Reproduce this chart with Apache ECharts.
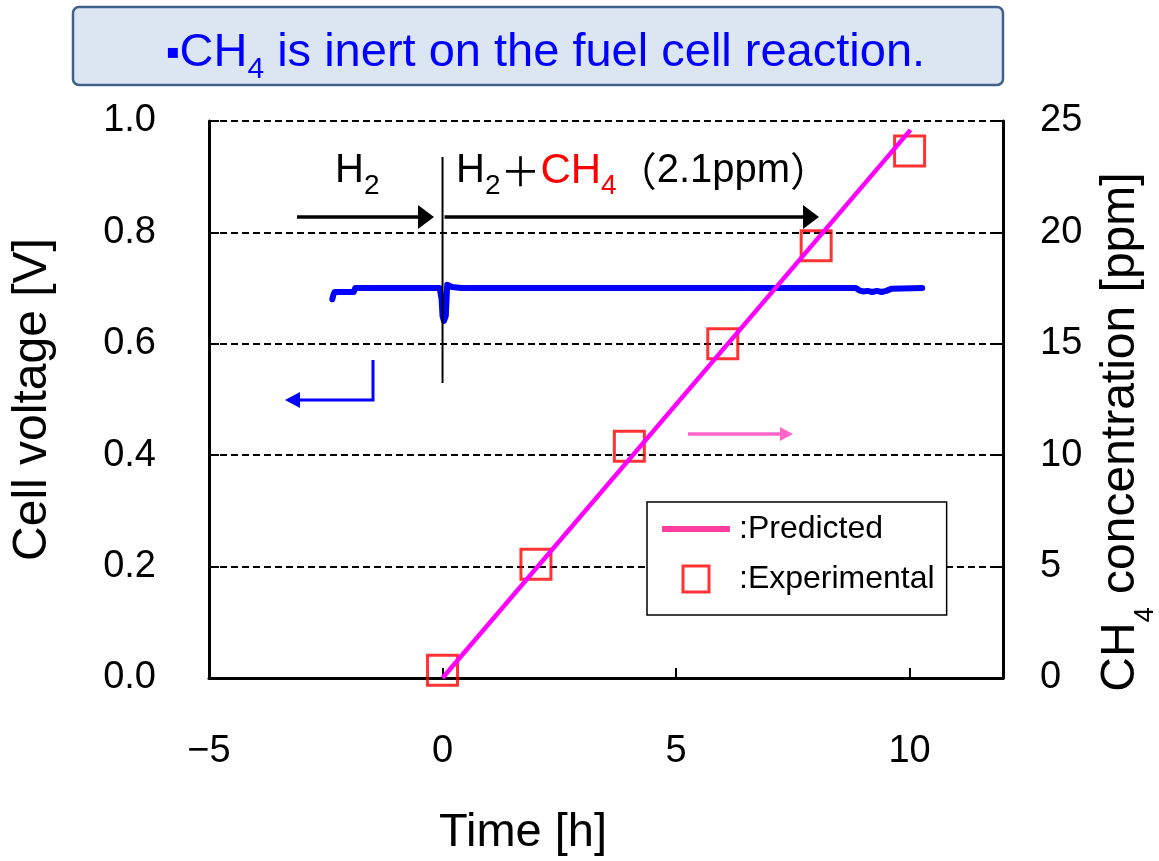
<!DOCTYPE html>
<html><head><meta charset="utf-8">
<script src="https://cdn.jsdelivr.net/npm/echarts@6/dist/echarts.min.js"></script>
<style>html,body{margin:0;padding:0;background:#fff}#c{width:1159px;height:861px}</style>
</head><body><div id="c"></div>
<script>
// ---- data ----
const voltTime  = [-2.36,-2.34,-2.31,-1.90,-1.87,-0.06,-0.02,0.00,0.03,0.07,0.10,0.20,0.40,8.85,8.92,9.00,9.10,9.20,9.30,9.40,9.50,9.62,10.27];
const voltValue = [0.680,0.687,0.693,0.693,0.700,0.700,0.680,0.650,0.641,0.650,0.706,0.702,0.700,0.700,0.696,0.694,0.695,0.693,0.695,0.693,0.695,0.699,0.700];
const predTime = [0, 10.02];
const predPpm  = [0, 24.6];
const expTime = [0, 2, 4, 6, 8, 10];
const expPpm  = [0.35, 5.1, 10.4, 15.0, 19.4, 23.65];
const xTickValues = [-5, 0, 5, 10];
const seriesNames = ['Predicted', 'Experimental'];

const F = 'Liberation Sans, Arial, Helvetica, sans-serif';
const zip = (a, b) => a.map((v, i) => [v, b[i]]);

const chart = echarts.init(document.getElementById('c'), null, {renderer: 'canvas'});

const option = {
  animation: false,
  backgroundColor: '#fff',
  grid: {left: 209, top: 121, right: 156, bottom: 183, outerBoundsMode: 'none', containLabel: false},
  xAxis: {
    type: 'value', min: -5, max: 12, interval: 5,
    name: 'Time [h]', nameLocation: 'middle', nameGap: 132,
    nameTextStyle: {fontSize: 47, fontFamily: F, color: '#000', padding: [0, 166, 0, 0]},
    axisLine: {show: true, onZero: false, lineStyle: {color: '#000', width: 3}},
    axisTick: {show: true, inside: true, length: 10, lineStyle: {color: '#000', width: 2}},
    axisLabel: {fontSize: 38, fontFamily: F, color: '#000', margin: 55,
      formatter: v => xTickValues.includes(v) ? (v < 0 ? '\u2212' + Math.abs(v) : String(v)) : ''},
    splitLine: {show: false}
  },
  yAxis: [{
    type: 'value', min: 0, max: 1, interval: 0.2, position: 'left',
    name: 'Cell voltage [V]', nameLocation: 'middle', nameRotate: 90, nameGap: 152,
    nameTextStyle: {fontSize: 48, fontFamily: F, color: '#000'},
    axisLine: {show: true, onZero: false, lineStyle: {color: '#000', width: 3}},
    axisTick: {show: true, inside: true, length: 10, lineStyle: {color: '#000', width: 2}},
    axisLabel: {fontSize: 38, fontFamily: F, color: '#000', margin: 53, formatter: v => v.toFixed(1)},
    splitLine: {show: true, lineStyle: {color: '#000', width: 2, type: [7, 4]}}
  }, {
    type: 'value', min: 0, max: 25, interval: 5, position: 'right',
    axisLine: {show: true, onZero: false, lineStyle: {color: '#000', width: 3}},
    axisTick: {show: true, inside: true, length: 10, lineStyle: {color: '#000', width: 2}},
    axisLabel: {fontSize: 38, fontFamily: F, color: '#000', margin: 37},
    splitLine: {show: false}
  }],
  legend: {
    orient: 'vertical', left: 647, top: 502,
    padding: [11, 12, 20, 15], itemGap: 18, itemWidth: 68, itemHeight: 26,
    borderColor: '#000', borderWidth: 1.5, backgroundColor: '#fff',
    symbolKeepAspect: true,
    textStyle: {fontSize: 32, fontFamily: F, color: '#000', padding: [0, 0, 0, 4]},
    formatter: n => ':' + n,
    data: [
      {name: seriesNames[0], icon: 'path://M0,0H68V6H0Z', itemStyle: {color: '#ff3fa0', borderWidth: 0}},
      {name: seriesNames[1], icon: 'path://M0,0H26V26H0Z', itemStyle: {color: 'rgba(0,0,0,0)', borderColor: '#ff0000', borderWidth: 3}}
    ]
  },
  series: [{
    name: 'Cell voltage', type: 'line', xAxisIndex: 0, yAxisIndex: 0,
    data: zip(voltTime, voltValue), showSymbol: false, symbol: 'none',
    lineStyle: {color: '#0000ff', width: 6, cap: 'round', join: 'round'}, z: 3
  }, {
    name: seriesNames[1], type: 'scatter', xAxisIndex: 0, yAxisIndex: 1,
    data: zip(expTime, expPpm), symbol: 'rect', symbolSize: 30,
    itemStyle: {color: 'rgba(0,0,0,0)', borderColor: '#ff0000', borderWidth: 3}, z: 2
  }, {
    name: seriesNames[0], type: 'line', xAxisIndex: 0, yAxisIndex: 1,
    data: zip(predTime, predPpm), showSymbol: false, symbol: 'none',
    lineStyle: {color: '#ff00ff', width: 4.5}, itemStyle: {color: '#ff00ff'}, z: 4
  }]
};
chart.setOption(option);

// ---- annotations ----
const x0 = chart.convertToPixel({xAxisIndex: 0}, 0);
function tri(tipX, tipY, dir, len, half, color) {
  const bx = tipX - dir * len;
  return {type: 'polygon', shape: {points: [[tipX, tipY], [bx, tipY - half], [bx, tipY + half]]},
          style: {fill: color}, z: 10};
}
const subRich = (color, size, sub, lh) => ({
  m: {fontSize: size, fontFamily: F, fill: color, lineHeight: lh},
  s: {fontSize: sub, fontFamily: F, fill: color, lineHeight: sub, verticalAlign: 'bottom'},
  r: {fontSize: size + 2, fontFamily: F, fill: '#ff0000', lineHeight: lh},
  rs: {fontSize: sub, fontFamily: F, fill: '#ff0000', lineHeight: sub, verticalAlign: 'bottom'},
  j: {fontSize: size, fontFamily: 'Noto Sans CJK JP', fill: color, lineHeight: lh},
  b: {fontSize: 20, fontFamily: 'DejaVu Sans', fill: color, lineHeight: lh}
});
chart.setOption({
  graphic: [
    // title box
    {type: 'rect', shape: {x: 73, y: 7, width: 930, height: 78, r: 6},
     style: {fill: '#dce6f2', stroke: '#41608a', lineWidth: 2.5}, z: 10},
    {type: 'text', x: 166, y: 53, z: 11,
     style: {text: '{b|\u25AA}{m|CH}{s|4}{m| is inert on the fuel cell reaction.}',
             align: 'left', verticalAlign: 'middle', rich: subRich('#0000ff', 47, 30, 64)}},
    // right axis title (rotated)
    {type: 'text', x: 1121, y: 432, rotation: Math.PI / 2, z: 11,
     style: {text: '{m|CH}{s|4}{m| concentration [ppm]}',
             align: 'center', verticalAlign: 'middle', rich: subRich('#000', 48, 27, 76)}},
    // vertical separator at t = 0
    {type: 'line', shape: {x1: x0, y1: 157, x2: x0, y2: 383}, style: {stroke: '#000', lineWidth: 2}, z: 10},
    // H2 label & arrow
    {type: 'text', x: 335, y: 171, z: 11,
     style: {text: '{m|H}{s|2}', align: 'left', verticalAlign: 'middle', rich: subRich('#000', 40, 28, 58)}},
    {type: 'line', shape: {x1: 297, y1: 217, x2: 420, y2: 217}, style: {stroke: '#000', lineWidth: 3.5}, z: 10},
    tri(434, 217, 1, 16, 12, '#000'),
    // H2 + CH4 label & arrow
    {type: 'text', x: 456, y: 171, z: 11,
     style: {text: '{m|H}{s|2}{j|\uFF0B}{r|CH}{rs|4}{j|\uFF08}{m|2.1ppm}{j|\uFF09}',
             align: 'left', verticalAlign: 'middle', rich: subRich('#000', 40, 28, 58)}},
    {type: 'line', shape: {x1: x0 + 2, y1: 217, x2: 805, y2: 217}, style: {stroke: '#000', lineWidth: 3.5}, z: 10},
    tri(819, 217, 1, 16, 12, '#000'),
    // blue bent arrow -> left axis
    {type: 'polyline', shape: {points: [[373, 360], [373, 400], [298, 400]]},
     style: {stroke: '#0000ff', lineWidth: 3, fill: null}, z: 10},
    tri(285, 400, -1, 15, 8, '#0000ff'),
    // pink arrow -> right axis
    {type: 'line', shape: {x1: 688, y1: 434, x2: 781, y2: 434}, style: {stroke: '#ff66cc', lineWidth: 3.5}, z: 10},
    tri(793, 434, 1, 13, 7, '#ff66cc')
  ]
});
</script>
</body></html>
